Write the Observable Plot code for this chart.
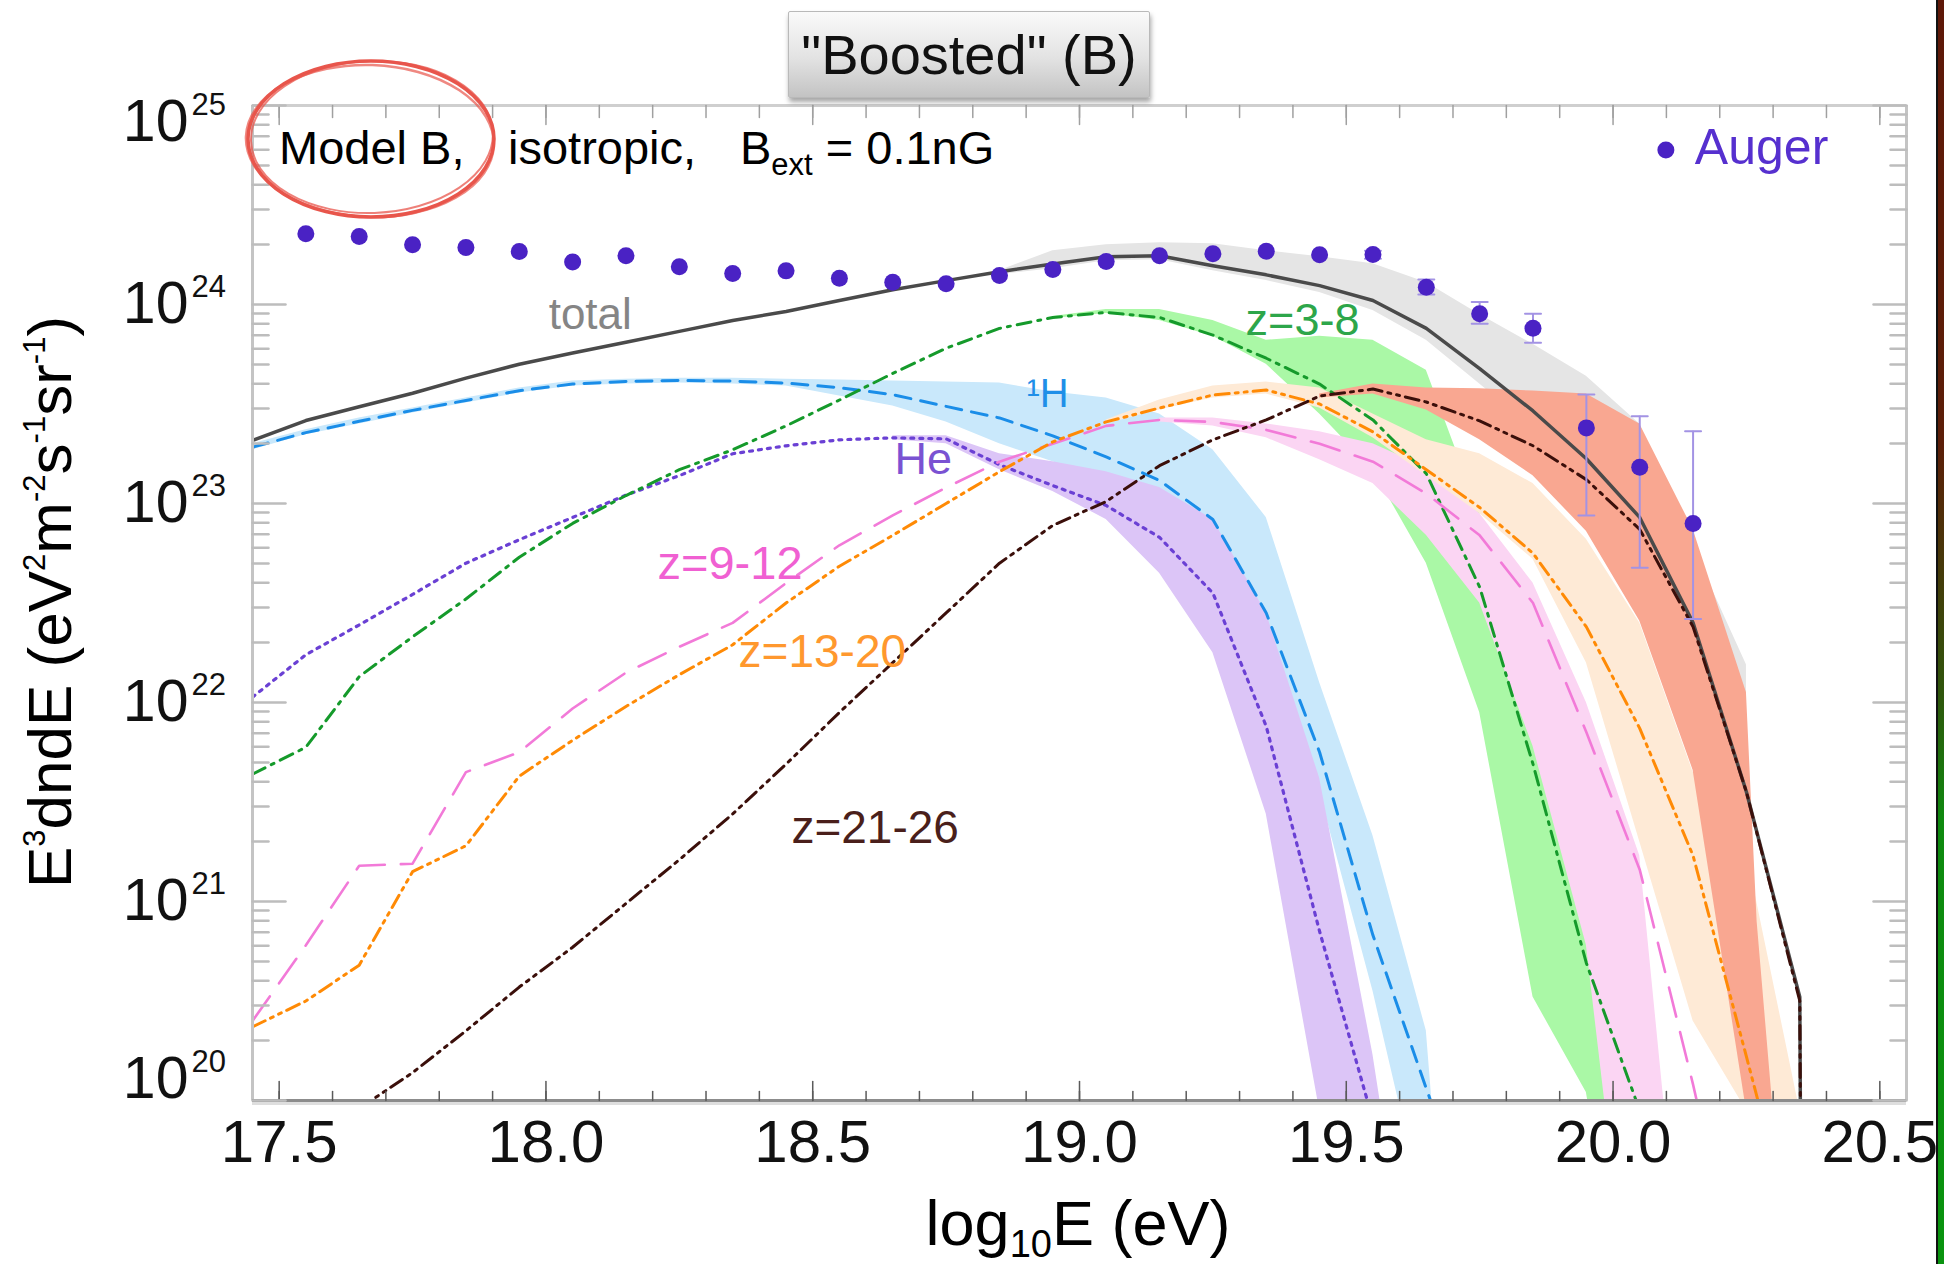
<!DOCTYPE html>
<html>
<head>
<meta charset="utf-8">
<script src="https://cdn.jsdelivr.net/npm/d3@7"></script>
<script src="https://cdn.jsdelivr.net/npm/@observablehq/plot@0.6"></script>
<style>
  html, body { margin: 0; padding: 0; background: #fff; }
  #wrap { position: relative; width: 1944px; height: 1264px; overflow: hidden; background: #fff;
          font-family: "Liberation Sans", Arial, Helvetica, sans-serif; color: #000; }
  #chart { position: absolute; left: 0; top: 0; }
  .t { position: absolute; line-height: 1; white-space: nowrap; }
  #titlebox { position: absolute; left: 788px; top: 11px; width: 360px; height: 85px;
              background: linear-gradient(#fafafa, #e2e2e2 55%, #c3c3c3);
              border: 1px solid #b9b9b9; border-radius: 2px;
              box-shadow: 1px 4px 5px rgba(0,0,0,0.35);
              display: flex; align-items: center; justify-content: center;
              font-size: 56px; line-height: 1; color: #111; }
  #strip { position: absolute; left: 1936px; top: 0; width: 8px; height: 1264px;
           border-left: 2px solid #111; box-sizing: border-box;
           background: linear-gradient(to bottom, #5e1808 0%, #5c1e08 35%, #2f560c 55%, #0f8a10 65%, #0a9410 100%); }
</style>
</head>
<body>
<div id="wrap">
  <div id="chart"></div>
  <div id="titlebox">"Boosted" (B)</div>
  <svg id="circle" width="1944" height="1264" style="position:absolute;left:0;top:0;pointer-events:none" fill="none" stroke="#e8564c">
    <ellipse cx="371" cy="139" rx="123" ry="78" stroke-width="3.5"/>
    <ellipse cx="372" cy="137" rx="121" ry="76" stroke-width="2" opacity="0.75" transform="rotate(-2 371 138)"/>
    <ellipse cx="370" cy="141" rx="124" ry="76" stroke-width="2.5" opacity="0.7" transform="rotate(2 371 138)"/>
  </svg>
  <div class="t" style="left:279px;top:124px;font-size:47px">Model B,</div>
  <div class="t" style="left:508px;top:124px;font-size:47px">isotropic,</div>
  <div class="t" style="left:740px;top:124px;font-size:47px">B<span style="font-size:31px;position:relative;top:11px">ext</span> = 0.1nG</div>
  <div class="t" id="xlab" style="left:1078px;top:1192px;font-size:63px;transform:translateX(-50%)">log<span style="font-size:38px;position:relative;top:12px">10</span>E (eV)</div>
  <div class="t" id="ylab" style="left:50px;top:602px;font-size:62px;transform:translate(-50%,-50%) rotate(-90deg)">E<span style="font-size:31px;position:relative;top:-26px">3</span>dndE (eV<span style="font-size:31px;position:relative;top:-26px">2</span>m<span style="font-size:31px;position:relative;top:-26px">-2</span>s<span style="font-size:31px;position:relative;top:-26px">-1</span>sr<span style="font-size:31px;position:relative;top:-26px">-1</span>)</div>
  <div id="strip"></div>
</div>
<script>
// ---------------- data (log10 of E^3 dN/dE) ----------------
const gridE = [17.45,17.55,17.65,17.75,17.85,17.95,18.05,18.15,18.25,18.35,18.45,18.55,18.65,18.75,18.85,18.95,
               19.05,19.15,19.25,19.35,19.45,19.55,19.65,19.75,19.85,19.95,20.05,20.15,20.25,20.35,20.45];

// total (solid)
const totalE = gridE.slice(0, 31);
const totalLog = [23.317,23.417,23.486,23.554,23.63,23.70,23.756,23.81,23.865,23.92,23.965,24.02,24.074,24.12,24.165,24.203,
                  24.24,24.245,24.195,24.149,24.095,24.02,23.88,23.678,23.465,23.225,22.93,22.40,21.55,20.52,-30];
// 1H (dashed)
const hE = gridE.slice(0, 24);
const hLog = [23.283,23.356,23.413,23.468,23.518,23.567,23.60,23.613,23.618,23.615,23.605,23.582,23.547,23.488,23.43,23.34,
              23.234,23.116,22.92,22.45,21.75,20.83,20.06,19.3];
// He (dotted)
const heE = gridE.slice(0, 23);
const heLog = [22.027,22.24,22.39,22.543,22.70,22.818,22.93,23.042,23.14,23.25,23.29,23.32,23.33,23.325,23.195,23.09,
               22.99,22.83,22.55,21.88,20.85,19.9,19.0];
// z=3-8 (dash-dot)
const z38E = gridE.slice(0, 28);
const z38Log = [21.64,21.775,22.13,22.33,22.52,22.73,22.90,23.04,23.17,23.27,23.39,23.52,23.654,23.78,23.88,23.935,
                23.96,23.935,23.846,23.73,23.60,23.42,23.15,22.58,21.69,20.69,19.95,19.0];
// z=9-12 (long dash)
const z912E = gridE.slice(0, 29);
const z912Log = [20.40,20.78,21.18,21.19,21.65,21.75,21.97,22.15,22.28,22.40,22.60,22.79,22.94,23.08,23.21,23.30,
                 23.39,23.42,23.41,23.37,23.30,23.21,23.05,22.84,22.50,21.85,21.16,20.08,18.9];
// z=13-20 (dash-dot-dot)
const z1320E = gridE.slice(0, 30);
const z1320Log = [20.37,20.50,20.68,21.15,21.28,21.63,21.81,21.98,22.14,22.29,22.50,22.685,22.84,23.00,23.16,23.31,
                  23.41,23.48,23.545,23.57,23.50,23.36,23.17,22.98,22.75,22.38,21.87,21.23,20.22,19.2];
// z=21-26 (dash-dot-dot, dark)
const z2126E = gridE.slice(2, 31);
const z2126Log = [19.96,20.14,20.35,20.57,20.77,20.99,21.21,21.44,21.69,21.95,22.20,22.45,22.70,22.89,23.01,23.19,
                  23.32,23.42,23.54,23.575,23.51,23.415,23.29,23.12,22.87,22.38,21.55,20.50,-30];

// uncertainty bands (lower / upper edges, log10)
const totalBandE = gridE.slice(14, 29);
const totalBandLo = [24.15,24.18,24.22,24.225,24.17,24.12,24.06,23.97,23.82,23.60,23.38,23.13,22.83,22.30,21.45];
const totalBandHi = [24.17,24.27,24.30,24.31,24.305,24.27,24.24,24.205,24.11,23.95,23.80,23.64,23.40,22.78,22.19];

const hBandE = gridE.slice(0, 24);
const hBandLo = [23.27,23.345,23.40,23.455,23.505,23.555,23.59,23.60,23.605,23.60,23.59,23.54,23.49,23.41,23.30,23.21,
                 23.10,22.95,22.70,22.25,21.55,20.55,19.4,17.0];
const hBandHi = [23.30,23.37,23.43,23.48,23.53,23.58,23.615,23.625,23.63,23.63,23.625,23.62,23.615,23.61,23.605,23.56,
                 23.53,23.45,23.27,22.93,22.10,21.33,20.35,17.0];

const heBandE = gridE.slice(12, 23);
const heBandLo = [23.32,23.30,23.17,23.06,22.92,22.65,22.25,21.44,19.95,18.5,18.0];
const heBandHi = [23.34,23.34,23.25,23.21,23.16,23.08,22.92,22.45,21.62,20.23,18.5];

const z38BandE = gridE.slice(15, 28);
const z38BandLo = [23.93,23.955,23.92,23.84,23.70,23.45,23.17,22.70,21.95,20.52,20.04,18.5,18.0];
const z38BandHi = [23.94,23.975,23.975,23.92,23.82,23.84,23.82,23.67,22.95,22.35,21.4,20.3,18.5];

const z912BandE = gridE.slice(17, 28);
const z912BandLo = [23.41,23.39,23.33,23.22,23.10,22.84,22.50,21.78,20.78,18.5,18.0];
const z912BandHi = [23.43,23.43,23.40,23.36,23.30,23.18,22.95,22.60,22.0,21.23,18.5];

const z1320BandE = gridE.slice(16, 30);
const z1320BandLo = [23.40,23.47,23.53,23.55,23.48,23.33,23.14,22.95,22.72,22.20,21.30,20.40,19.95,18.0];
const z1320BandHi = [23.42,23.52,23.59,23.61,23.58,23.45,23.32,23.25,23.10,22.82,22.40,21.65,21.25,19.95];

const z2126BandE = [19.45,19.55,19.65,19.75,19.85,19.95,20.05,20.15,20.25,20.27,20.30];
const z2126BandLo = [23.53,23.55,23.47,23.32,23.14,22.86,22.41,21.66,19.95,18.0,18.0];
const z2126BandHi = [23.55,23.60,23.58,23.577,23.565,23.55,23.40,22.87,22.05,20.9,19.95];

// Auger data points
const augerE = [17.55,17.65,17.75,17.85,17.95,18.05,18.15,18.25,18.35,18.45,18.55,18.65,18.75,18.85,18.95,19.05,
                19.15,19.25,19.35,19.45,19.55,19.65,19.75,19.85,19.95,20.05,20.15];
const augerLog = [24.355,24.342,24.30,24.286,24.266,24.214,24.245,24.19,24.156,24.169,24.132,24.112,24.104,24.146,24.176,24.216,
                  24.245,24.255,24.268,24.25,24.251,24.087,23.953,23.881,23.38,23.182,22.90];
const augerErrE = [19.55,19.65,19.75,19.85,19.95,20.05,20.15];
const augerErrLoLog = [24.23,24.05,23.903,23.808,22.94,22.677,22.42];
const augerErrHiLog = [24.27,24.126,24.012,23.953,23.548,23.439,23.363];

// curve labels (anchor energy, anchor log10 flux)
const labelText = ["total","z=3-8","\u00B9H","He","z=9-12","z=13-20","z=21-26"];
const labelE    = [18.083, 19.418, 18.94, 18.707, 18.345, 18.518, 18.617];
const labelLog  = [23.95, 23.917, 23.548, 23.221, 22.697, 22.25, 21.367];
// legend
const legendText = ["Auger"];
const legendE = [20.099];
const legendLog = [24.776];

// axis ticks
const xDomain = [17.45, 20.55];
const yDomain = [1e20, 1e25];
const xMajor = [17.5, 18.0, 18.5, 19.0, 19.5, 20.0, 20.5];
const xMajorLabels = ["17.5","18.0","18.5","19.0","19.5","20.0","20.5"];
const yMajor = [1e20, 1e21, 1e22, 1e23, 1e24, 1e25];
const yExpLabels = ["20","21","22","23","24","25"];

// ---------------- build ----------------
const pow = v => Math.pow(10, v);
const series = (xs, ys) => xs.map((x, i) => ({x, y: pow(ys[i])}));
const band = (xs, lo, hi) => xs.map((x, i) => ({x, lo: pow(lo[i]), hi: pow(hi[i])}));

const xMinor = d3.range(175, 206).map(d => d / 10);
const yMinor = d3.range(20, 25).flatMap(e => d3.range(2, 10).map(m => m * Math.pow(10, e)));
const yTicks = yMajor.map((v, i) => ({v, exp: yExpLabels[i]}));
const xTicks = xMajor.map((v, i) => ({v, label: xMajorLabels[i]}));

const lineShape = {draw(context, l) { context.moveTo(0, 0); context.lineTo(0, -l); }};

const bands = [
  {d: band(totalBandE, totalBandLo, totalBandHi), fill: "#e5e5e5"},
  {d: band(hBandE, hBandLo, hBandHi), fill: "#c9e8fb"},
  {d: band(heBandE, heBandLo, heBandHi), fill: "#dcc5f7"},
  {d: band(z38BandE, z38BandLo, z38BandHi), fill: "#aaf8a6"},
  {d: band(z912BandE, z912BandLo, z912BandHi), fill: "#fbd5f3"},
  {d: band(z1320BandE, z1320BandLo, z1320BandHi), fill: "#feead6"},
  {d: band(z2126BandE, z2126BandLo, z2126BandHi), fill: "#f9a791"}
];

const lines = [
  {d: series(hE, hLog), stroke: "#1a8de8", w: 3, dash: "16,10"},
  {d: series(heE, heLog), stroke: "#6a40d4", w: 3.2, dash: "3,6"},
  {d: series(z38E, z38Log), stroke: "#159a2b", w: 3, dash: "14,7,3,7"},
  {d: series(z912E, z912Log), stroke: "#f27ad8", w: 2.6, dash: "30,16"},
  {d: series(z1320E, z1320Log), stroke: "#ff8a05", w: 3, dash: "14,6,3,6,3,6"},
  {d: series(totalE, totalLog), stroke: "#4a4a4a", w: 3.5, dash: null},
  {d: series(z2126E, z2126Log), stroke: "#3b0f0a", w: 3, dash: "14,6,3,6,3,6"}
];

const labelColors = ["#858585", "#2da64a", "#1f8fe8", "#7a52d2", "#f060d2", "#ff982e", "#4a1f1b"];
const labelSizes = [44, 45, 40, 45, 47, 46, 46];
const labels = labelText.map((t, i) => ({text: t, x: labelE[i], y: pow(labelLog[i])}));

const auger = series(augerE, augerLog);
const augerErr = augerErrE.map((x, i) => ({x, lo: pow(augerErrLoLog[i]), hi: pow(augerErrHiLog[i])}));
const legend = legendText.map((t, i) => ({text: t, x: legendE[i], y: pow(legendLog[i])}));

const marks = [];
for (const b of bands) marks.push(Plot.areaY(b.d, {x: "x", y1: "lo", y2: "hi", fill: b.fill, curve: "linear", clip: true}));
for (const l of lines) marks.push(Plot.line(l.d, {x: "x", y: "y", stroke: l.stroke, strokeWidth: l.w,
  strokeDasharray: l.dash, strokeLinejoin: "round", clip: true}));

// error bars and points
marks.push(Plot.ruleX(augerErr, {x: "x", y1: "lo", y2: "hi", stroke: "#a393e4", strokeWidth: 2}));
marks.push(Plot.vector(augerErr, {x: "x", y: "lo", rotate: 90, length: 16, anchor: "middle", shape: lineShape, stroke: "#a393e4", strokeWidth: 2}));
marks.push(Plot.vector(augerErr, {x: "x", y: "hi", rotate: 90, length: 16, anchor: "middle", shape: lineShape, stroke: "#a393e4", strokeWidth: 2}));
marks.push(Plot.dot(auger, {x: "x", y: "y", r: 8.5, fill: "#4a22c4", stroke: null}));

// labels
labels.forEach((l, i) => marks.push(Plot.text([l], {x: "x", y: "y", text: "text", fill: labelColors[i], fontSize: labelSizes[i]})));
marks.push(Plot.dot(legend, {x: "x", y: "y", r: 8.5, fill: "#4a22c4"}));
marks.push(Plot.text(legend, {x: "x", y: "y", text: "text", textAnchor: "start", dx: 29, dy: -2, fill: "#5630cf", fontSize: 50}));

// frame
marks.push(Plot.ruleY([yDomain[1]], {stroke: "#cfcfcf", strokeWidth: 3}));
marks.push(Plot.ruleX([xDomain[0]], {stroke: "#c4c4c4", strokeWidth: 3}));
marks.push(Plot.ruleX([xDomain[1]], {stroke: "#c4c4c4", strokeWidth: 3}));
marks.push(Plot.ruleY([yDomain[0]], {stroke: "#dedede", strokeWidth: 3, dy: 3}));
marks.push(Plot.ruleY([yDomain[0]], {stroke: "#8c8c8c", strokeWidth: 3}));

// ticks
marks.push(Plot.vector(xMinor, {x: d => d, frameAnchor: "bottom", length: 9, anchor: "start", shape: lineShape, stroke: "#5a5a5a", strokeWidth: 1.5}));
marks.push(Plot.vector(xMajor, {x: d => d, frameAnchor: "bottom", length: 19, anchor: "start", shape: lineShape, stroke: "#5a5a5a", strokeWidth: 1.5}));
marks.push(Plot.vector(xMinor, {x: d => d, frameAnchor: "top", rotate: 180, length: 12, anchor: "start", shape: lineShape, stroke: "#a0a0a0", strokeWidth: 1.5}));
marks.push(Plot.vector(xMajor, {x: d => d, frameAnchor: "top", rotate: 180, length: 19, anchor: "start", shape: lineShape, stroke: "#a0a0a0", strokeWidth: 1.5}));
marks.push(Plot.vector(yMinor, {y: d => d, frameAnchor: "left", rotate: 90, length: 16, anchor: "start", shape: lineShape, stroke: "#bdbdbd", strokeWidth: 2.5}));
marks.push(Plot.vector(yMajor, {y: d => d, frameAnchor: "left", rotate: 90, length: 33, anchor: "start", shape: lineShape, stroke: "#bdbdbd", strokeWidth: 2.5}));
marks.push(Plot.vector(yMinor, {y: d => d, frameAnchor: "right", rotate: -90, length: 16, anchor: "start", shape: lineShape, stroke: "#bdbdbd", strokeWidth: 2.5}));
marks.push(Plot.vector(yMajor, {y: d => d, frameAnchor: "right", rotate: -90, length: 33, anchor: "start", shape: lineShape, stroke: "#bdbdbd", strokeWidth: 2.5}));

// tick labels
marks.push(Plot.text(xTicks, {x: "v", text: "label", frameAnchor: "bottom", dy: 61, fontSize: 60, fill: "#111"}));
const yTickGroups = [
  {d: yTicks.filter(t => t.exp !== "20" && t.exp !== "25"), dy: 0},
  {d: yTicks.filter(t => t.exp === "25"), dy: 17},
  {d: yTicks.filter(t => t.exp === "20"), dy: -21}
];
for (const g of yTickGroups) {
  marks.push(Plot.text(g.d, {y: "v", text: () => "10", frameAnchor: "left", textAnchor: "end", dx: -64, dy: g.dy, fontSize: 59, fill: "#111"}));
  marks.push(Plot.text(g.d, {y: "v", text: "exp", frameAnchor: "left", textAnchor: "start", dx: -61, dy: g.dy - 17, fontSize: 31, fill: "#111"}));
}

const chart = Plot.plot({
  width: 1944,
  height: 1264,
  marginLeft: 252,
  marginRight: 38,
  marginTop: 105,
  marginBottom: 164,
  x: {domain: xDomain, axis: null},
  y: {type: "log", domain: yDomain, axis: null},
  style: {fontFamily: "'Liberation Sans', Arial, Helvetica, sans-serif", background: "transparent", overflow: "visible"},
  marks
});
document.getElementById("chart").appendChild(chart);
</script>
</body>
</html>
